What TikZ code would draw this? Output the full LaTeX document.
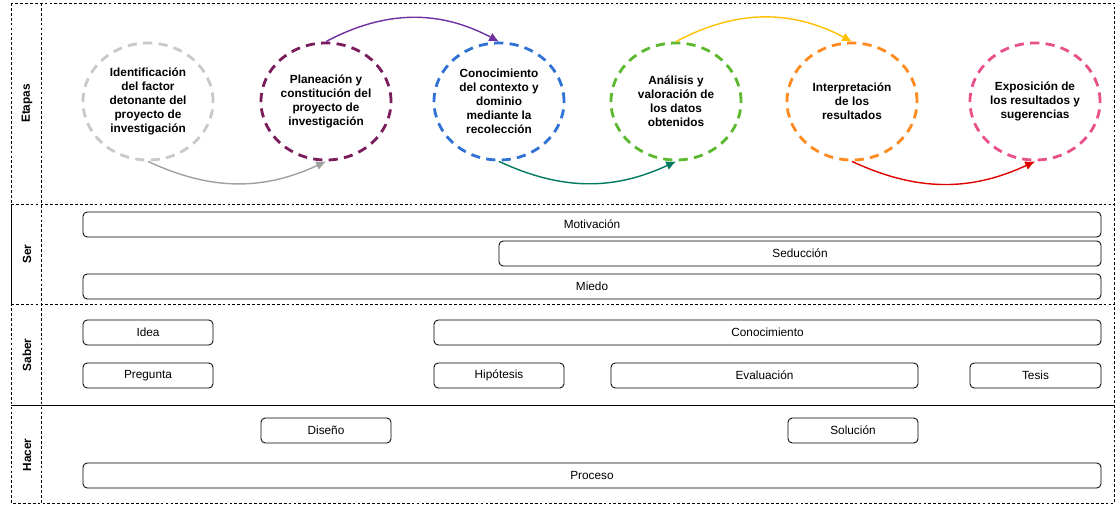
\documentclass[tikz,border=0pt]{standalone}
\usepackage{fontspec}
\setmainfont{Liberation Sans}
\usetikzlibrary{shapes.geometric, arrows.meta}

\definecolor{identgray}{HTML}{C9C9C9}
\definecolor{planmagenta}{HTML}{7A1C5C}
\definecolor{conoblue}{HTML}{2F72D4}
\definecolor{analgreen}{HTML}{5CB82E}
\definecolor{interporange}{HTML}{FF8A1F}
\definecolor{expopink}{HTML}{E8508A}
\definecolor{arrowgray}{HTML}{A0A0A0}
\definecolor{arrowpurple}{HTML}{7030A0}
\definecolor{arrowteal}{HTML}{007A5E}
\definecolor{arrowyellow}{HTML}{FFC000}
\definecolor{arrowred}{HTML}{E00000}

\begin{document}
\begin{tikzpicture}[x=0.025cm, y=0.025cm,
  frame/.style={black, line width=0.6pt, dash pattern=on 2pt off 1.5pt},
  etapa/.style={ellipse, line width=2pt, dash pattern=on 6.5pt off 4.5pt, minimum width=3.25cm, minimum height=2.925cm, inner sep=0pt, align=center, font=\fontsize{8.4}{9.9}\selectfont\bfseries},
  paso/.style={line width=1pt, -{Latex[length=7pt, width=6.5pt]}},
  rowlabel/.style={rotate=90, font=\fontsize{8.4}{10}\selectfont\bfseries},
  bar/.style={draw, rounded corners=3pt, line width=0.6pt, inner sep=0pt, minimum height=25*0.025cm, font=\fontsize{8.4}{10}\selectfont}]
\useasboundingbox (0,0) rectangle (1115,-505);

\draw[frame] (11,-3) rectangle (1114,-503);
\draw[frame] (41,-3) -- (41,-503);
\draw[frame] (11,-204) -- (1114,-204);
\draw[frame] (11,-304) -- (1114,-304);
\draw[black, line width=0.6pt] (11,-405) -- (1114,-405);
\draw[black, line width=0.6pt] (11,-204) -- (11,-304);

\node[rowlabel] (lblEtapas) at (27,-103.5) {Etapas};
\node[rowlabel] (lblSer) at (27,-254) {Ser};
\node[rowlabel] (lblSaber) at (27,-355) {Saber};
\node[rowlabel] (lblHacer) at (27,-455) {Hacer};

\node[etapa, draw=identgray] (ident) at (148,-101.5) {Identificación\\del factor\\detonante del\\proyecto de\\investigación};
\node[etapa, draw=planmagenta] (plan) at (326,-101.5) {Planeación y\\constitución del\\proyecto de\\investigación};
\node[etapa, draw=conoblue] (cono) at (499,-101.5) {Conocimiento\\del contexto y\\dominio\\mediante la\\recolección};
\node[etapa, draw=analgreen] (anal) at (676,-101.5) {Análisis y\\valoración de\\los datos\\obtenidos};
\node[etapa, draw=interporange] (interp) at (852,-101.5) {Interpretación\\de los\\resultados};
\node[etapa, draw=expopink] (expo) at (1035,-101.5) {Exposición de\\los resultados y\\sugerencias};

\draw[paso, arrowgray] (ident.south) to[out=-25, in=-155] (plan.south);
\draw[paso, arrowpurple] (plan.north) to[out=28, in=152] (cono.north);
\draw[paso, arrowteal] (cono.south) to[out=-25, in=-155] (anal.south);
\draw[paso, arrowyellow] (anal.north) to[out=28, in=152] (interp.north);
\draw[paso, arrowred] (interp.south) to[out=-25, in=-155] (expo.south);

% Ser
\node[bar, minimum width=1018*0.025cm] (motivacion) at (592,-224.5) {Motivación};
\node[bar, minimum width=602*0.025cm] (seduccion) at (800,-253.5) {Seducción};
\node[bar, minimum width=1018*0.025cm] (miedo) at (592,-286.5) {Miedo};

% Saber
\node[bar, minimum width=130*0.025cm] (idea) at (148,-332.5) {Idea};
\node[bar, minimum width=667*0.025cm] (conocimiento) at (767.5,-332.5) {Conocimiento};
\node[bar, minimum width=130*0.025cm] (pregunta) at (148,-375.5) {Pregunta};
\node[bar, minimum width=130*0.025cm] (hipotesis) at (499,-375.5) {Hipótesis};
\node[bar, minimum width=307*0.025cm] (evaluacion) at (764.5,-375.5) {Evaluación};
\node[bar, minimum width=131*0.025cm] (tesis) at (1035.5,-375.5) {Tesis};

% Hacer
\node[bar, minimum width=130*0.025cm] (diseno) at (326,-430.5) {Diseño};
\node[bar, minimum width=130*0.025cm] (solucion) at (853,-430.5) {Solución};
\node[bar, minimum width=1018*0.025cm] (proceso) at (592,-475.5) {Proceso};

\end{tikzpicture}
\end{document}
